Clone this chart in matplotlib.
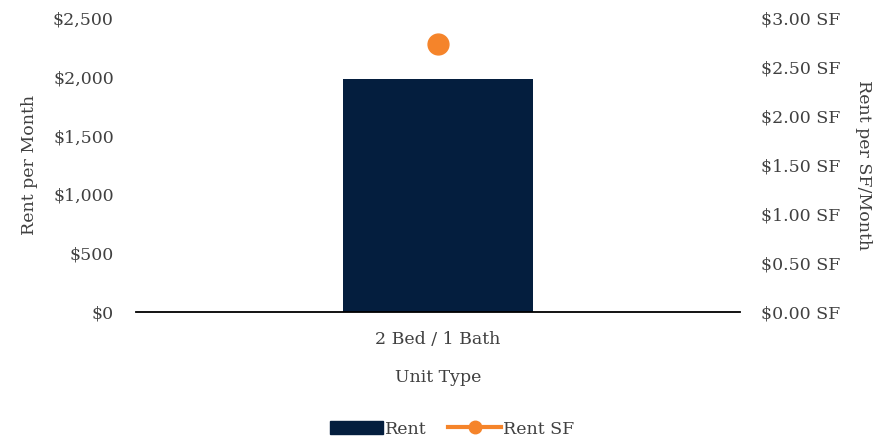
import matplotlib
matplotlib.use("Agg")
import matplotlib.pyplot as plt
from matplotlib.ticker import FuncFormatter
from matplotlib.lines import Line2D
from matplotlib.patches import Patch

categories = ["2 Bed / 1 Bath"]
rent = [1980]
rent_sf = [2.73]
left_ticks = [0, 500, 1000, 1500, 2000, 2500]
right_ticks = [0, 0.5, 1.0, 1.5, 2.0, 2.5, 3.0]

plt.rcParams['font.family'] = ['DejaVu Serif']
text_color = '#404040'
bar_color = '#041E3E'
dot_color = '#F5842A'
fs = 12.5

fig = plt.figure(figsize=(8.92, 4.40), dpi=100)
ax = fig.add_axes([136/892, (440-312)/440, 604/892, 294/440])
x = list(range(len(categories)))
ax.bar(x, rent, width=0.315, color=bar_color, zorder=2)
ax.set_xlim(-0.5, 0.5)
ax.set_ylim(0, 2500)
ax.set_yticks(left_ticks)
ax.yaxis.set_major_formatter(FuncFormatter(lambda v, p: f"${v:,.0f}"))
ax.set_xticks(x)
ax.set_xticklabels(categories)
for s in ['top', 'right', 'left']:
    ax.spines[s].set_visible(False)
ax.spines['bottom'].set_linewidth(1.3)
ax.spines['bottom'].set_color('#000000')
ax.tick_params(length=0, labelsize=fs, colors=text_color, pad=16)
ax.tick_params(axis='x', pad=14)
ax.set_xlabel("Unit Type", fontsize=fs, color=text_color, labelpad=15)
ax.set_ylabel("Rent per Month", fontsize=fs, color=text_color, labelpad=11)

ax2 = ax.twinx()
ax2.plot(x, rent_sf, marker='o', markersize=15, color=dot_color, linewidth=3, zorder=3)
ax2.set_ylim(0, 3.0)
ax2.set_yticks(right_ticks)
ax2.yaxis.set_major_formatter(FuncFormatter(lambda v, p: f"${v:.2f} SF"))
for s in ['top', 'right', 'left', 'bottom']:
    ax2.spines[s].set_visible(False)
ax2.tick_params(length=0, labelsize=fs, colors=text_color, pad=15)
ax2.set_ylabel("Rent per SF/Month", fontsize=fs, color=text_color, rotation=270, labelpad=23)

handles = [Patch(color=bar_color, label="Rent"),
           Line2D([0], [0], color=dot_color, linewidth=3, marker='o', markersize=9, label="Rent SF")]
fig.legend(handles=handles, loc='center', bbox_to_anchor=(452/892, 1 - 429/440), ncol=2,
           frameon=False, fontsize=fs, labelcolor=text_color, handlelength=3.1,
           handletextpad=0.1, columnspacing=1.2)

fig.savefig("out.png", dpi=100)
